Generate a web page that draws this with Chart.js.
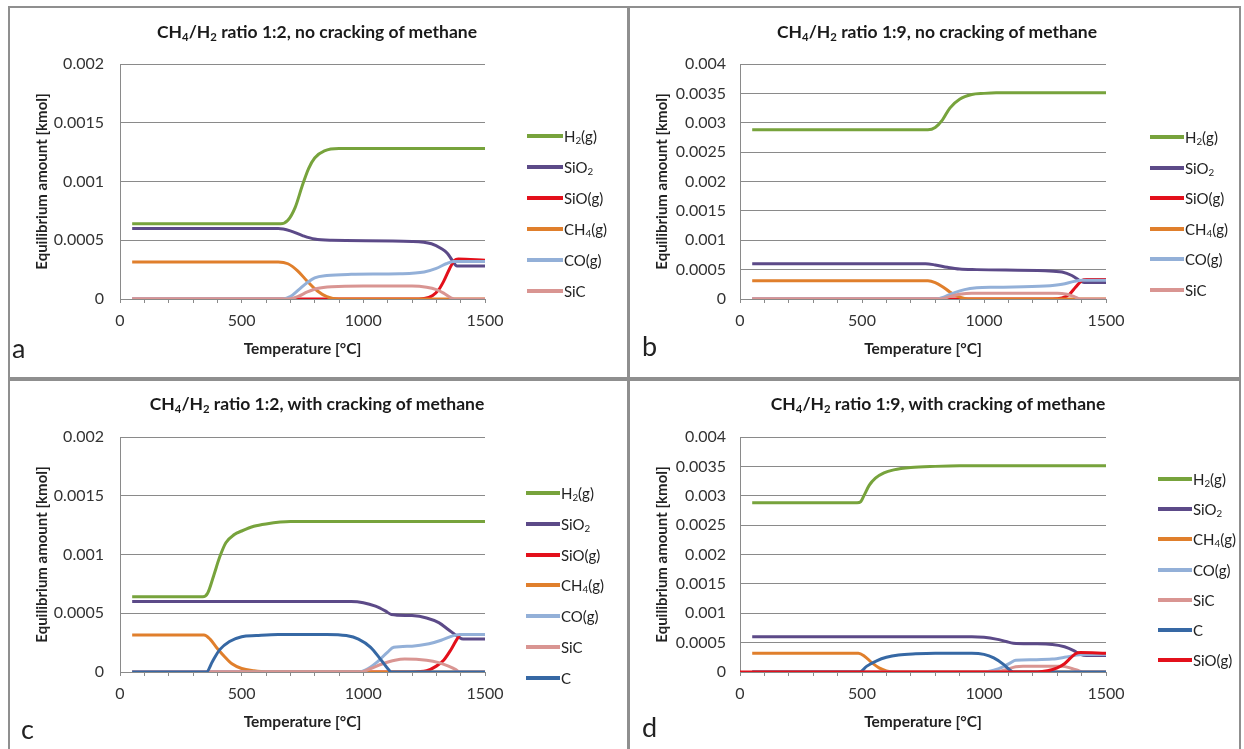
<!DOCTYPE html>
<html>
<head>
<meta charset="utf-8">
<script src="https://cdn.jsdelivr.net/npm/chart.js@4.4.1/dist/chart.umd.min.js"></script>
<style>
  html, body { margin: 0; padding: 0; background: #fff; }
  body { width: 1244px; height: 749px; position: relative; overflow: hidden; font-family: Lato, 'Open Sans', sans-serif; color: #222; }
  .frame { position: absolute; box-sizing: border-box; border: 2px solid #8f8f8f; pointer-events: none; }
  canvas { position: absolute; }
  .title { position: absolute; width: 500px; text-align: center; font-weight: bold; font-size: 17.5px; line-height: 20px; color: #1a1a1a; }
  .title sub, .legend sub { font-size: 0.65em; vertical-align: -0.25em; line-height: 0; }
  .legend { position: absolute; margin: 0; padding: 0; list-style: none; font-size: 15px; color: #222; }
  .legend li { display: flex; align-items: center; white-space: nowrap; }
  .legend .swatch { display: inline-block; height: 4px; margin-right: 1px; }
  .letter { position: absolute; font-size: 27px; line-height: 27px; color: #222; }
</style>
</head>
<body>
<script>
// temperature [°C] / equilibrium amount [kmol] pairs

const xTickLabels = ['0', '500', '1000', '1500'];
const yLabelsLow = ['0', '0.0005', '0.001', '0.0015', '0.002'];
const yLabelsHigh = ['0', '0.0005', '0.001', '0.0015', '0.002', '0.0025', '0.003', '0.0035', '0.004'];

// a: CH4/H2 1:2, no cracking
const aH2 = [[50, 0.00064], [660, 0.00064], [690, 0.00067], [720, 0.00078], [750, 0.00097], [775, 0.00111], [800, 0.0012], [840, 0.00126], [900, 0.00128], [1500, 0.00128]];
const aSiO2 = [[50, 0.0006], [650, 0.0006], [700, 0.00058], [750, 0.00054], [800, 0.00051], [870, 0.0005], [1200, 0.00049], [1280, 0.00047], [1320, 0.00043], [1345, 0.00039], [1365, 0.00033], [1385, 0.00028], [1500, 0.00028]];
const aSiO = [[50, 0], [1200, 0], [1250, 0.000005], [1285, 0.00003], [1310, 0.00008], [1330, 0.00015], [1355, 0.00026], [1375, 0.00033], [1390, 0.00034], [1500, 0.00033]];
const aCH4 = [[50, 0.000315], [650, 0.000315], [690, 0.0003], [730, 0.00024], [770, 0.00015], [810, 0.00007], [850, 0.00002], [900, 0], [1500, 0]];
const aCO = [[50, 0], [670, 0], [700, 0.00002], [735, 0.00008], [770, 0.00014], [800, 0.00018], [850, 0.0002], [950, 0.00021], [1150, 0.000215], [1250, 0.00023], [1300, 0.00026], [1340, 0.0003], [1370, 0.00032], [1500, 0.00032]];
const aSiC = [[50, 0], [690, 0], [730, 0.00002], [770, 0.00006], [810, 0.00009], [870, 0.000105], [1000, 0.00011], [1200, 0.00011], [1260, 0.0001], [1300, 0.00008], [1330, 0.00005], [1360, 0.00001], [1375, 0], [1500, 0]];

// b: CH4/H2 1:9, no cracking
const bH2 = [[50, 0.00288], [770, 0.00288], [800, 0.00292], [830, 0.00305], [860, 0.00325], [900, 0.0034], [950, 0.00348], [1000, 0.0035], [1050, 0.00351], [1500, 0.00351]];
const bSiO2 = [[50, 0.0006], [760, 0.0006], [800, 0.00058], [850, 0.00054], [900, 0.00051], [970, 0.0005], [1250, 0.00048], [1320, 0.00046], [1360, 0.0004], [1390, 0.00032], [1410, 0.00028], [1500, 0.00028]];
const bSiO = [[50, 0], [1280, 0], [1320, 0.00002], [1350, 0.00008], [1375, 0.0002], [1400, 0.00031], [1420, 0.00033], [1500, 0.00033]];
const bCH4 = [[50, 0.00031], [770, 0.00031], [800, 0.00028], [830, 0.00021], [860, 0.00012], [890, 0.00005], [920, 0.00001], [950, 0], [1500, 0]];
const bCO = [[50, 0], [800, 0], [840, 0.00004], [880, 0.00011], [920, 0.00016], [970, 0.00019], [1050, 0.0002], [1250, 0.00022], [1320, 0.00025], [1370, 0.0003], [1400, 0.00032], [1500, 0.00032]];
const bSiC = [[50, 0], [820, 0], [860, 0.00004], [900, 0.00008], [950, 0.0001], [1300, 0.0001], [1340, 0.00008], [1370, 0.00004], [1395, 0], [1500, 0]];

// c: CH4/H2 1:2, with cracking
const cH2 = [[50, 0.00064], [340, 0.00064], [360, 0.00067], [385, 0.00082], [410, 0.00098], [435, 0.0011], [470, 0.00117], [500, 0.0012], [550, 0.00124], [600, 0.00126], [700, 0.00128], [1500, 0.00128]];
const cSiO2 = [[50, 0.0006], [950, 0.0006], [1000, 0.00059], [1050, 0.00056], [1090, 0.00052], [1115, 0.00049], [1200, 0.00048], [1260, 0.00046], [1310, 0.00042], [1350, 0.00036], [1390, 0.0003], [1410, 0.00028], [1500, 0.00028]];
const cSiO = [[50, 0], [1200, 0], [1260, 0.00001], [1300, 0.00005], [1330, 0.0001], [1360, 0.00019], [1385, 0.00028], [1400, 0.00032], [1500, 0.00032]];
const cCH4 = [[50, 0.000315], [345, 0.000315], [370, 0.00028], [400, 0.0002], [430, 0.00013], [460, 0.00007], [500, 0.00003], [550, 0.00001], [600, 0], [1500, 0]];
const cCO = [[50, 0], [980, 0], [1020, 0.00003], [1060, 0.00009], [1100, 0.00017], [1125, 0.00021], [1200, 0.00022], [1270, 0.00024], [1320, 0.00027], [1370, 0.00031], [1400, 0.00032], [1500, 0.00032]];
const cSiC = [[50, 0], [990, 0], [1030, 0.00003], [1080, 0.00007], [1130, 0.0001], [1170, 0.00011], [1260, 0.0001], [1310, 0.00008], [1350, 0.00005], [1380, 0.00002], [1395, 0], [1500, 0]];
const cC = [[50, 0], [355, 0], [380, 0.00009], [410, 0.00019], [450, 0.00026], [500, 0.0003], [560, 0.00031], [650, 0.00032], [850, 0.00032], [930, 0.00031], [980, 0.00028], [1030, 0.00021], [1070, 0.00011], [1100, 0.00003], [1115, 0], [1500, 0]];

// d: CH4/H2 1:9, with cracking
const dH2 = [[50, 0.00288], [480, 0.00288], [495, 0.0029], [510, 0.00302], [530, 0.00318], [555, 0.0033], [590, 0.00339], [630, 0.00344], [700, 0.00348], [800, 0.0035], [900, 0.00351], [1500, 0.00351]];
const dSiO2 = [[50, 0.0006], [950, 0.0006], [1000, 0.00059], [1050, 0.00056], [1090, 0.00052], [1120, 0.00049], [1200, 0.00048], [1280, 0.00047], [1330, 0.00043], [1370, 0.00036], [1395, 0.0003], [1420, 0.00028], [1500, 0.00028]];
const dCH4 = [[50, 0.00032], [485, 0.00032], [510, 0.00027], [540, 0.00016], [570, 0.00007], [600, 0.00002], [630, 0], [1500, 0]];
const dCO = [[50, 0], [1000, 0], [1040, 0.00003], [1080, 0.00009], [1110, 0.00016], [1130, 0.0002], [1200, 0.00021], [1280, 0.00022], [1330, 0.00025], [1370, 0.00028], [1400, 0.0003], [1500, 0.0003]];
const dSiC = [[50, 0], [1050, 0], [1090, 0.00004], [1130, 0.00009], [1160, 0.0001], [1320, 0.0001], [1360, 0.00006], [1390, 0.00002], [1405, 0], [1500, 0]];
const dC = [[50, 0], [490, 0], [520, 0.0001], [560, 0.00019], [600, 0.00025], [650, 0.00029], [720, 0.00031], [800, 0.00032], [950, 0.00032], [1000, 0.0003], [1040, 0.00024], [1080, 0.00013], [1110, 0.00002], [1120, 0], [1500, 0]];
const dSiO = [[0, 0], [1220, 0], [1260, 0.00002], [1300, 0.00007], [1330, 0.00014], [1355, 0.00024], [1375, 0.00031], [1395, 0.00033], [1500, 0.00032]];

const colors = { H2: '#77a33c', SiO2: '#5c4a88', SiO: '#e3101b', CH4: '#e07f2c', CO: '#93b0d8', SiC: '#d99592', C: '#3668a4' };
const names = { H2: 'H<sub>2</sub>(g)', SiO2: 'SiO<sub>2</sub>', SiO: 'SiO(g)', CH4: 'CH<sub>4</sub>(g)', CO: 'CO(g)', SiC: 'SiC', C: 'C' };

const panels = [
  { id: 'a', box: [8, 6, 621, 373], title: 'CH<sub>4</sub>/H<sub>2</sub> ratio 1:2, no cracking of methane', titleAt: [317, 33],
    yMax: 0.002, yLabels: yLabelsLow, tickPad: 16, padRight: 144, letterAt: [12, 334],
    legend: { left: 527, top: 136, step: 31, width: 36 },
    series: [['H2', aH2], ['SiO2', aSiO2], ['SiO', aSiO], ['CH4', aCH4], ['CO', aCO], ['SiC', aSiC]] },
  { id: 'b', box: [628, 6, 613, 373], title: 'CH<sub>4</sub>/H<sub>2</sub> ratio 1:9, no cracking of methane', titleAt: [937, 33],
    yMax: 0.004, yLabels: yLabelsHigh, tickPad: 14, padRight: 135, letterAt: [642, 332],
    legend: { left: 1150, top: 137, step: 30.6, width: 34 },
    series: [['H2', bH2], ['SiO2', bSiO2], ['SiO', bSiO], ['CH4', bCH4], ['CO', bCO], ['SiC', bSiC]] },
  { id: 'c', box: [8, 379, 621, 372], title: 'CH<sub>4</sub>/H<sub>2</sub> ratio 1:2, with cracking of methane', titleAt: [317, 405],
    yMax: 0.002, yLabels: yLabelsLow, tickPad: 16, padRight: 144, letterAt: [21, 715],
    legend: { left: 526, top: 493, step: 30.8, width: 34 },
    series: [['H2', cH2], ['SiO2', cSiO2], ['SiO', cSiO], ['CH4', cCH4], ['CO', cCO], ['SiC', cSiC], ['C', cC]] },
  { id: 'd', box: [628, 379, 613, 372], title: 'CH<sub>4</sub>/H<sub>2</sub> ratio 1:9, with cracking of methane', titleAt: [938, 405],
    yMax: 0.004, yLabels: yLabelsHigh, tickPad: 14, padRight: 135, letterAt: [642, 713],
    legend: { left: 1158, top: 479, step: 30.2, width: 34 },
    series: [['H2', dH2], ['SiO2', dSiO2], ['CH4', dCH4], ['CO', dCO], ['SiC', dSiC], ['C', dC], ['SiO', dSiO]] }
];

Chart.defaults.font.family = 'Lato, "Open Sans", sans-serif';
Chart.defaults.color = '#333';

panels.forEach(panel => {
  const [left, top, width, height] = panel.box;

  const canvas = document.createElement('canvas');
  canvas.width = width;
  canvas.height = height;
  Object.assign(canvas.style, { left: left + 'px', top: top + 'px', width: width + 'px', height: height + 'px' });
  document.body.appendChild(canvas);

  const frame = document.createElement('div');
  frame.className = 'frame';
  Object.assign(frame.style, { left: left + 'px', top: top + 'px', width: width + 'px', height: height + 'px' });
  document.body.appendChild(frame);

  const title = document.createElement('div');
  title.className = 'title';
  title.innerHTML = panel.title;
  Object.assign(title.style, { left: (panel.titleAt[0] - 250) + 'px', top: (panel.titleAt[1] - 11) + 'px' });
  document.body.appendChild(title);

  const letter = document.createElement('div');
  letter.className = 'letter';
  letter.textContent = panel.id;
  Object.assign(letter.style, { left: panel.letterAt[0] + 'px', top: panel.letterAt[1] + 'px' });
  document.body.appendChild(letter);

  const legend = document.createElement('ul');
  legend.className = 'legend';
  legend.style.left = panel.legend.left + 'px';
  legend.style.top = (panel.legend.top - panel.legend.step / 2) + 'px';
  legend.innerHTML = panel.series.map(([key]) => `
    <li style="height:${panel.legend.step}px"><span class="swatch" style="width:${panel.legend.width}px;background:${colors[key]}"></span><span>${names[key]}</span></li>
  `).join('');
  document.body.appendChild(legend);

  new Chart(canvas, {
    type: 'line',
    data: {
      datasets: panel.series.map(([key, points], i) => ({
        label: key,
        data: points.map(([x, y]) => ({ x, y })),
        borderColor: colors[key],
        backgroundColor: colors[key],
        borderWidth: 3,
        pointRadius: 0,
        fill: false,
        cubicInterpolationMode: 'monotone',
        order: -i
      }))
    },
    options: {
      responsive: false,
      animation: false,
      events: [],
      layout: { padding: { left: 18, top: 58, right: panel.padRight, bottom: height - 293 - 60 } },
      plugins: { legend: { display: false }, tooltip: { enabled: false } },
      scales: {
        x: {
          type: 'linear',
          min: 0,
          max: 1500,
          afterFit: scale => { scale.height = 60; },
          ticks: {
            stepSize: 100,
            autoSkip: false,
            maxRotation: 0,
            padding: 8,
            color: '#333',
            font: { size: 16 },
            callback: value => (value % 500 === 0 ? xTickLabels[value / 500] : '')
          },
          grid: { drawOnChartArea: false, drawTicks: true, tickLength: 4, color: '#8a8a8a' },
          border: { color: '#8a8a8a', width: 1 },
          title: { display: true, text: 'Temperature [°C]', font: { size: 15.5, weight: 'bold' }, color: '#222', padding: { top: 0, bottom: 1 } }
        },
        y: {
          min: 0,
          max: panel.yMax,
          afterFit: scale => { scale.width = 94; },
          ticks: {
            stepSize: 0.0005,
            padding: panel.tickPad,
            color: '#333',
            font: { size: 16 },
            callback: (value, index) => panel.yLabels[index]
          },
          grid: { drawTicks: false, color: '#8a8a8a' },
          border: { color: '#8a8a8a', width: 1 },
          title: { display: true, text: 'Equilibrium amount [kmol]', font: { size: 15, weight: 'bold' }, color: '#222', padding: { top: 7, bottom: 0 } }
        }
      }
    }
  });
});
</script>
</body>
</html>
